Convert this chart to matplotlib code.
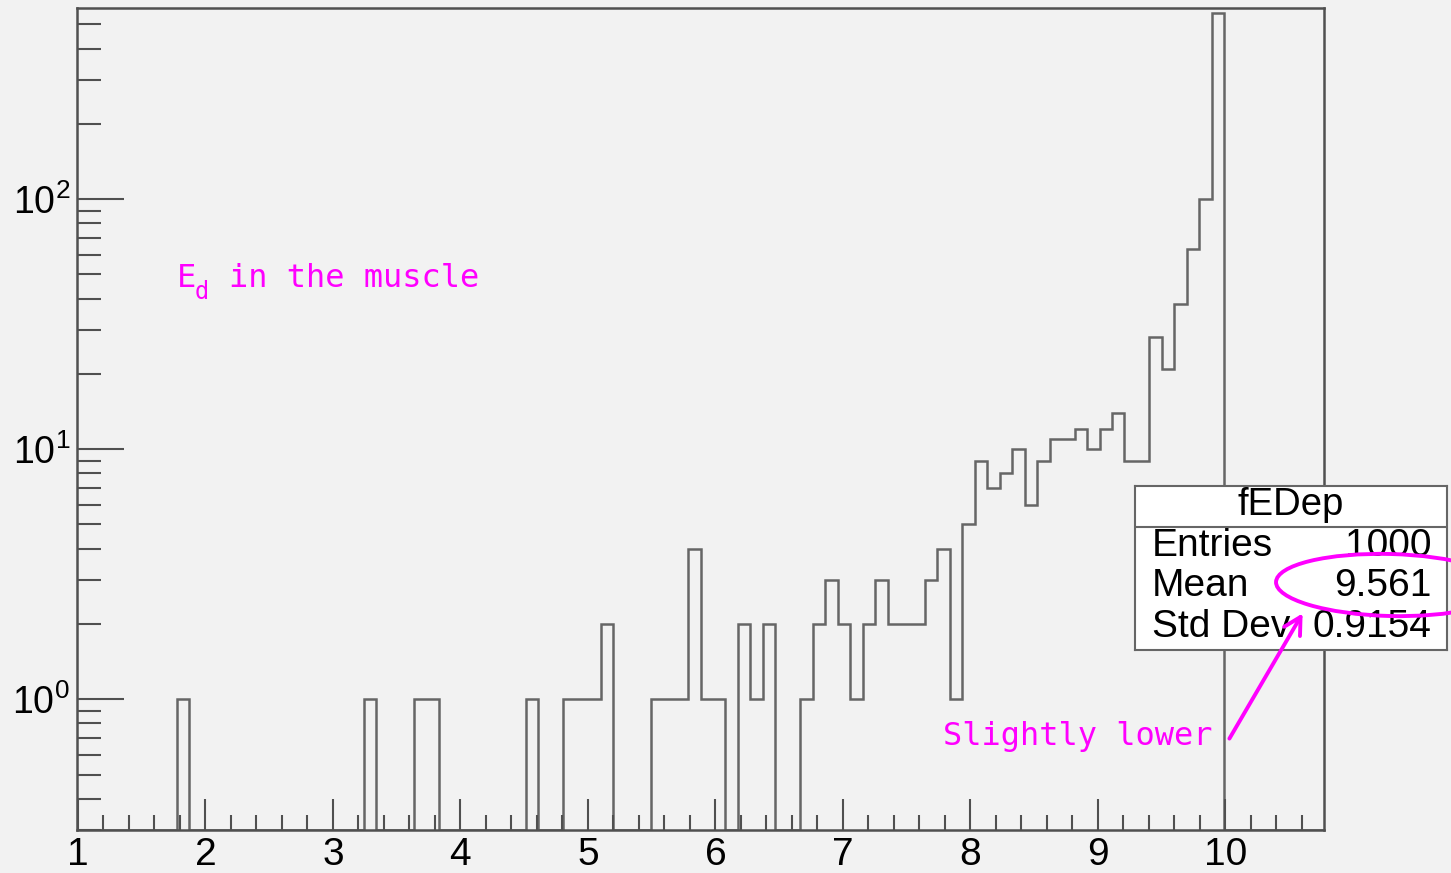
import numpy as np
import matplotlib
matplotlib.use("Agg")
import matplotlib.pyplot as plt
from matplotlib.patches import Ellipse, FancyArrowPatch
from matplotlib.ticker import FixedLocator, FixedFormatter, MultipleLocator, LogLocator, NullFormatter

# ---------------- data ----------------
x_min = 0.993
x_max = 10.773
n_bins = 100
counts = [
    0, 0, 0, 0, 0, 0, 0, 0, 1, 0,
    0, 0, 0, 0, 0, 0, 0, 0, 0, 0,
    0, 0, 0, 1, 0, 0, 0, 1, 1, 0,
    0, 0, 0, 0, 0, 0, 1, 0, 0, 1,
    1, 1, 2, 0, 0, 0, 1, 1, 1, 4,
    1, 1, 0, 2, 1, 2, 0, 0, 1, 2,
    3, 2, 1, 2, 3, 2, 2, 2, 3, 4,
    1, 5, 9, 7, 8, 10, 6, 9, 11, 11,
    12, 10, 12, 14, 9, 9, 28, 21, 38, 63,
    100, 556, 0, 0, 0, 0, 0, 0, 0, 0,
]
x_tick_values = [1, 2, 3, 4, 5, 6, 7, 8, 9, 10]
x_tick_labels = ["1", "2", "3", "4", "5", "6", "7", "8", "9", "10"]
y_tick_values = [1, 10, 100]
y_tick_labels = [r"$\mathregular{10^{0}}$", r"$\mathregular{10^{1}}$", r"$\mathregular{10^{2}}$"]
y_min, y_max = 0.30, 581.0

stats_title = "fEDep"
stats_names = ["Entries", "Mean", "Std Dev"]
stats_values = ["1000", "9.561", "0.9154"]
label_main_sym = "E"
label_main_sub = "d"
label_main_rest = "in the muscle"
label_note = "Slightly lower"

# ---------------- style ----------------
plt.rcParams["font.family"] = ["Liberation Sans", "DejaVu Sans"]
plt.rcParams["mathtext.fontset"] = "custom"
plt.rcParams["mathtext.rm"] = "Liberation Sans"

W, H = 1451, 873
BG = "#f2f2f2"
AXC = "#505050"
HISTC = "#666666"
MAG = "#ff00ff"
MONO = "DejaVu Sans Mono"

fig = plt.figure(figsize=(W / 100, H / 100), dpi=100, facecolor=BG)


def fx(px):
    return px / W


def fy(py):
    return 1 - py / H


ax = fig.add_axes([fx(77), fy(830), (1324 - 77) / W, (830 - 8) / H])
ax.set_facecolor(BG)
ax.set_yscale("log")

edges = np.linspace(x_min, x_max, n_bins + 1)
vals = np.array(counts, dtype=float)
plot_vals = np.where(vals > 0, vals, y_min)
ax.stairs(plot_vals, edges, baseline=y_min, color=HISTC, linewidth=1.8)

ax.set_xlim(x_min, x_max)
ax.set_ylim(y_min, y_max)

ax.xaxis.set_major_locator(FixedLocator(x_tick_values))
ax.xaxis.set_major_formatter(FixedFormatter(x_tick_labels))
ax.xaxis.set_minor_locator(MultipleLocator(0.2))
ax.yaxis.set_major_locator(FixedLocator(y_tick_values))
ax.yaxis.set_major_formatter(FixedFormatter(y_tick_labels))
ax.yaxis.set_minor_locator(LogLocator(base=10, subs=np.arange(2, 10), numticks=20))
ax.yaxis.set_minor_formatter(NullFormatter())

ax.tick_params(axis="x", which="major", direction="in", length=22, width=1.5,
               color=AXC, labelsize=28, pad=5, top=False)
ax.tick_params(axis="x", which="minor", direction="in", length=11, width=1.5,
               color=AXC, top=False)
ax.tick_params(axis="y", which="major", direction="in", length=33.5, width=1.5,
               color=AXC, labelsize=27, pad=5, right=False)
ax.tick_params(axis="y", which="minor", direction="in", length=17, width=1.5,
               color=AXC, right=False)
for s in ax.spines.values():
    s.set_color(AXC)
    s.set_linewidth(1.8)

# ---------------- annotations ----------------
fig.text(fx(177), fy(287), label_main_sym, color=MAG, fontsize=23,
         family=MONO, ha="left", va="baseline")
fig.text(fx(195), fy(299), label_main_sub, color=MAG, fontsize=17,
         family=MONO, ha="left", va="baseline")
fig.text(fx(229), fy(287), label_main_rest, color=MAG, fontsize=23,
         family=MONO, ha="left", va="baseline")
fig.text(fx(943), fy(745), label_note, color=MAG, fontsize=23,
         family=MONO, ha="left", va="baseline")

# ---------------- stats box ----------------
bx0, bx1, by0, by1 = 1135, 1447, 486, 650
sb = fig.add_axes([fx(bx0), fy(by1), (bx1 - bx0) / W, (by1 - by0) / H], zorder=5)
sb.set_facecolor("white")
sb.set_xlim(0, 1)
sb.set_ylim(0, 1)
sb.set_xticks([])
sb.set_yticks([])
for s in sb.spines.values():
    s.set_color("#666666")
    s.set_linewidth(1.5)
bh = by1 - by0
bw = bx1 - bx0
sb.axhline((by1 - 527) / bh, color="#666666", linewidth=1.5)
sb.text(0.5, (by1 - 505) / bh, stats_title, ha="center", va="center", fontsize=27.5)
row_y = [546, 586, 627]
for name, val, yy in zip(stats_names, stats_values, row_y):
    sb.text((1152 - bx0) / bw, (by1 - yy) / bh, name, ha="left", va="center", fontsize=28)
    sb.text((1431 - bx0) / bw, (by1 - yy) / bh, val, ha="right", va="center", fontsize=28)


# ellipse and arrow (pixel coordinates -> inches)
def pin(px, py):
    return (px / 100.0, (H - py) / 100.0)


ell = Ellipse(pin(1390, 585), 2.28, 0.62, angle=-1.5, fill=False,
              edgecolor=MAG, linewidth=2.8, transform=fig.dpi_scale_trans, zorder=10)
fig.add_artist(ell)
arr = FancyArrowPatch(pin(1228, 741), pin(1304, 611),
                      arrowstyle="->,head_length=0.55,head_width=0.3", mutation_scale=22,
                      color=MAG, linewidth=2.8, transform=fig.dpi_scale_trans, zorder=10)
fig.add_artist(arr)

fig.savefig("out.png", dpi=100, facecolor=BG)
